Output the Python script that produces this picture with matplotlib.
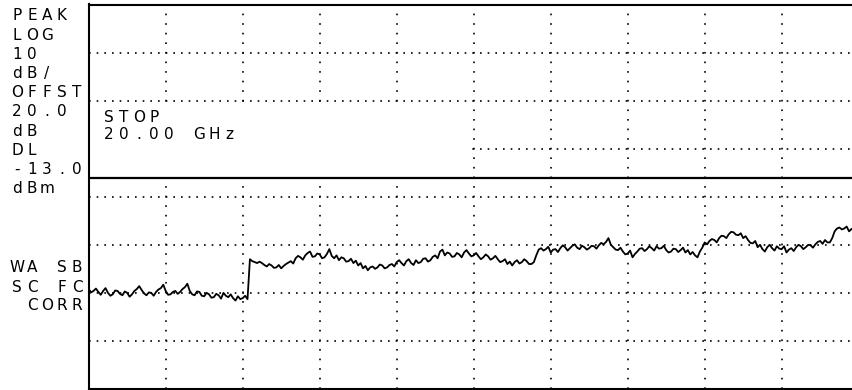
import matplotlib
matplotlib.use('Agg')
import numpy as np
import matplotlib.pyplot as plt
from matplotlib.patches import Rectangle

# sweep settings
start_ghz = 0.0
stop_ghz = 20.0
n_points = 321
ref_level = 23.0      # dBm at top graticule line
db_per_div = 10.0
display_line = -13.0  # DL

# trace (dBm)
level_dbm = [
    -36.2, -36.9, -36.6, -36.1, -36.8, -37.4, -36.6, -36.0, -37.0, -37.6,
    -37.3, -36.5, -36.6, -37.2, -37.5, -36.7, -37.0, -37.8, -37.3, -36.6,
    -36.2, -35.6, -36.4, -37.1, -37.5, -36.9, -37.0, -37.6, -36.8, -36.3,
    -36.0, -35.3, -36.6, -37.4, -37.3, -36.8, -36.6, -37.2, -36.8, -36.2,
    -35.8, -35.1, -36.6, -37.3, -37.5, -36.7, -36.8, -37.6, -37.7, -37.0,
    -37.3, -38.0, -37.9, -37.2, -37.5, -38.2, -37.0, -37.6, -37.9, -37.3,
    -38.1, -38.6, -37.7, -38.3, -38.1, -37.6, -38.3, -30.0,
    -30.4, -30.6, -30.8, -30.5, -30.8, -31.2, -31.5, -31.0, -31.3, -31.8,
    -31.7, -31.2, -31.9, -31.4, -31.0, -30.7, -30.4, -30.9, -29.8, -29.3,
    -29.6, -30.1, -29.2, -28.7, -28.4, -29.5, -29.4, -28.8, -29.0, -29.8,
    -29.6, -28.9, -27.9, -29.3, -29.8, -29.2, -30.2, -29.6, -29.8, -30.5,
    -30.4, -29.9, -30.8, -30.3, -31.3, -30.8, -31.9, -31.4, -32.3, -31.7,
    -31.5, -32.0, -31.7, -31.1, -31.3, -31.9, -31.7, -31.2, -31.0, -31.5,
    -30.6, -30.2, -30.8, -31.3, -30.4, -30.0, -30.8, -31.2, -30.2, -30.8,
    -30.6, -29.9, -29.8, -30.5, -30.2, -29.5, -29.2, -29.8, -28.4, -28.0,
    -29.2, -28.6, -28.8, -29.5, -29.4, -28.7, -29.0, -29.6, -28.6, -28.1,
    -28.8, -29.4, -29.2, -28.7, -29.4, -30.0, -29.6, -29.0, -29.4, -30.1,
    -29.8, -29.3, -30.0, -30.6, -30.4, -30.0, -31.0, -30.5, -31.3, -30.6,
    -30.2, -30.9, -30.6, -30.0, -30.4, -31.0, -31.0, -30.6, -29.2, -28.0,
    -27.7, -28.2, -27.9, -27.4, -28.6, -28.0, -27.9, -28.5, -27.7, -27.1,
    -27.5, -28.2, -27.7, -27.2, -26.9, -27.6, -27.9, -27.2, -27.5, -28.0,
    -27.7, -27.2, -27.3, -27.8, -27.1, -26.6, -26.9, -26.4, -25.6, -27.0,
    -27.5, -28.0, -28.1, -27.6, -28.4, -29.0, -28.8, -28.2, -29.6, -28.9,
    -28.4, -27.8, -27.7, -28.3, -27.9, -27.3, -27.7, -28.2, -27.3, -27.8,
    -27.7, -27.2, -28.1, -28.6, -28.4, -27.8, -27.9, -28.5, -28.1, -27.6,
    -28.6, -28.1, -29.0, -28.5, -29.2, -29.6, -28.4, -27.6, -26.5, -26.9,
    -26.2, -25.8, -26.0, -26.5, -25.6, -25.1, -25.2, -25.6, -24.8, -24.3,
    -24.4, -24.9, -25.0, -24.6, -25.6, -25.2, -26.0, -26.6, -26.7, -26.2,
    -27.5, -27.0, -27.9, -28.4, -27.5, -27.0, -27.7, -28.2, -27.3, -27.8,
    -27.9, -27.3, -28.6, -28.0, -27.7, -28.3, -27.5, -27.0, -27.3, -27.9,
    -27.5, -27.0, -27.1, -27.6, -26.9, -26.4, -26.2, -26.8, -26.0, -26.5,
    -26.5, -25.6, -24.2, -23.6, -23.4, -23.8, -23.6, -23.2, -24.2, -23.7,
    -24.0, -24.4, -23.8,
]
freq_ghz = np.linspace(start_ghz, stop_ghz, n_points)

left_labels = ['PEAK', 'LOG', '10', 'dB/', 'OFFST', '20.0', 'dB', 'DL', '-13.0', 'dBm']
lower_labels = ['WA SB', 'SC FC', ' CORR']
stop_text = ['STOP', '20.00 GHz']

W, H = 853, 390
fig = plt.figure(figsize=(W / 100, H / 100), dpi=100)
ax = fig.add_axes([88.7 / W, 1.0 / H, 770 / W, 384.5 / H])

ax.plot(freq_ghz, level_dbm, color='black', lw=1.3, zorder=3)
ax.axhline(display_line, color='black', lw=1.6, zorder=3)

ax.set_xlim(start_ghz, stop_ghz)
ax.set_ylim(ref_level - 8 * db_per_div, ref_level)
ax.set_xticks(np.linspace(start_ghz, stop_ghz, 11))
ax.set_yticks(np.arange(ref_level - 7 * db_per_div, ref_level, db_per_div))
ax.tick_params(length=0, labelbottom=False, labelleft=False)
ax.xaxis.grid(True, color='black', lw=1.2, linestyle=(0, (1, 4.75)))
ax.yaxis.grid(True, color='black', lw=1.2, linestyle=(0, (1, 3.6)))
for s in ax.spines.values():
    s.set_linewidth(1.5)

# blank area behind the STOP annotation
ax.add_patch(Rectangle((start_ghz, display_line + 0.2), 9.9, 15.5,
                       facecolor='white', edgecolor='none', zorder=2))


def put(s, x, y, pitch=15.0):
    # fixed pitch like the analyzer screen font
    for k, ch in enumerate(s):
        if ch == ' ':
            continue
        fig.text((x + k * pitch + 5) / W, 1 - y / H, ch, ha='center', va='baseline',
                 family='DejaVu Sans', fontsize=11, color='black')


for i, lab in enumerate(left_labels):
    put(lab, 12, 15 + i * 19.2 + 5.5)
for i, lab in enumerate(lower_labels):
    put(lab, 12, 267 + i * 19 + 5.5)
put(stop_text[0], 104, 117 + 5.5)
put(stop_text[1], 104, 133 + 5.5)

fig.savefig('out.png', dpi=100)
